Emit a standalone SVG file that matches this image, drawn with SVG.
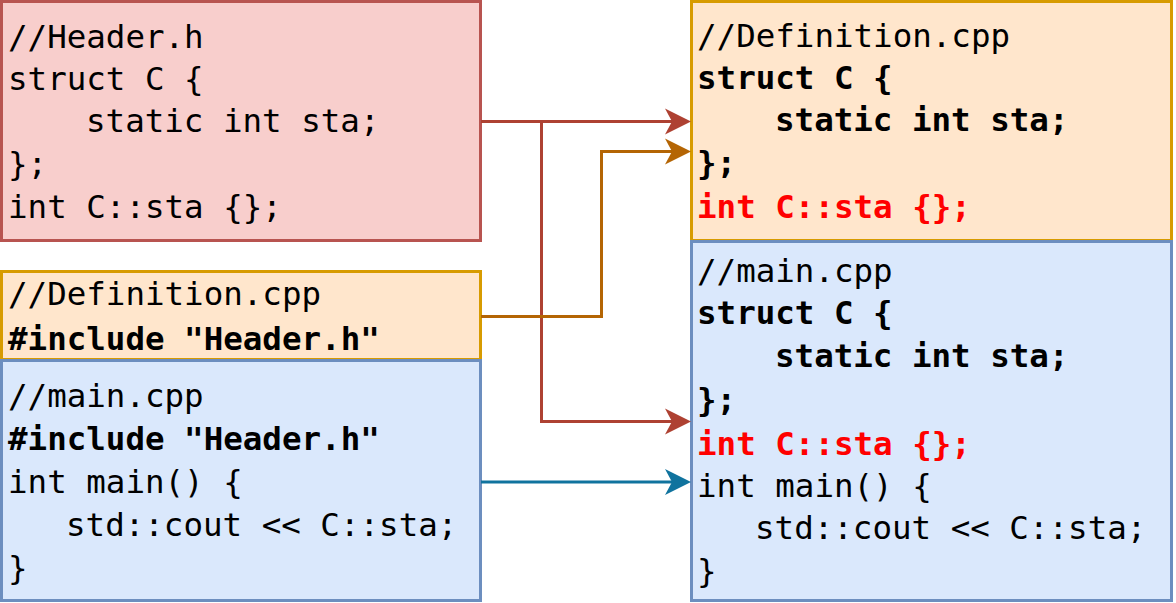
<svg xmlns="http://www.w3.org/2000/svg" width="1176" height="603" viewBox="0 0 1176 603">
<style>
.code{font-family:"DejaVu Sans Mono","Liberation Mono",monospace;font-size:32.5px;fill:#000}
.b{font-weight:bold}
.r{fill:#ff0000;font-weight:bold}
.red{fill:#f8cecc;stroke:#b85450;stroke-width:3}
.org{fill:#ffe6cc;stroke:#d79b00;stroke-width:3}
.blu{fill:#dae8fc;stroke:#6c8ebf;stroke-width:3}
.ln{fill:none;stroke-width:3}
</style>
<defs>
<marker id="aR" markerUnits="userSpaceOnUse" markerWidth="26" markerHeight="28" viewBox="0 0 26 28" refX="7" refY="14" orient="auto"><path d="M0,1 L26,14 L0,27 L7,14 Z" fill="#ae4132"/></marker>
<marker id="aO" markerUnits="userSpaceOnUse" markerWidth="26" markerHeight="28" viewBox="0 0 26 28" refX="7" refY="14" orient="auto"><path d="M0,1 L26,14 L0,27 L7,14 Z" fill="#b46504"/></marker>
<marker id="aB" markerUnits="userSpaceOnUse" markerWidth="26" markerHeight="28" viewBox="0 0 26 28" refX="7" refY="14" orient="auto"><path d="M0,1 L26,14 L0,27 L7,14 Z" fill="#10739e"/></marker>
</defs>
<rect width="1176" height="603" fill="#fff"/>
<g id="header">
<rect class="red" x="1.5" y="1.5" width="479" height="239"/>
<text class="code"><tspan x="8" y="48">//Header.h</tspan><tspan x="8" y="90">struct C {</tspan><tspan x="86" y="132">static int sta;</tspan><tspan x="8" y="175">};</tspan><tspan x="8" y="218">int C::sta {};</tspan></text>
</g>
<g id="definitionL">
<rect class="org" x="1.5" y="271.5" width="479" height="88"/>
<text class="code"><tspan x="8" y="305">//Definition.cpp</tspan><tspan class="b" x="8" y="350">#include "Header.h"</tspan></text>
</g>
<g id="mainL">
<rect class="blu" x="1.5" y="360.5" width="479" height="240"/>
<text class="code"><tspan x="8" y="407">//main.cpp</tspan><tspan class="b" x="8" y="450">#include "Header.h"</tspan><tspan x="8" y="493">int main() {</tspan><tspan x="66" y="536">std::cout &lt;&lt; C::sta;</tspan><tspan x="8" y="579">}</tspan></text>
</g>
<g id="definitionR">
<rect class="org" x="691.5" y="1.5" width="480" height="239"/>
<text class="code"><tspan x="697" y="47">//Definition.cpp</tspan><tspan class="b" x="697" y="89">struct C {</tspan><tspan class="b" x="775" y="131">static int sta;</tspan><tspan class="b" x="697" y="174">};</tspan><tspan class="r" x="697" y="218">int C::sta {};</tspan></text>
</g>
<g id="mainR">
<rect class="blu" x="691.5" y="241.5" width="480" height="359"/>
<text class="code"><tspan x="697" y="282">//main.cpp</tspan><tspan class="b" x="697" y="324">struct C {</tspan><tspan class="b" x="775" y="367">static int sta;</tspan><tspan class="b" x="697" y="411">};</tspan><tspan class="r" x="697" y="455">int C::sta {};</tspan><tspan x="697" y="497">int main() {</tspan><tspan x="755" y="539">std::cout &lt;&lt; C::sta;</tspan><tspan x="697" y="582">}</tspan></text>
</g>
<g id="connectors">
<path class="ln" stroke="#ae4132" d="M481,121.5 H672" marker-end="url(#aR)"/>
<path class="ln" stroke="#ae4132" d="M541.5,121.5 V421.5 H672" marker-end="url(#aR)"/>
<path class="ln" stroke="#b46504" d="M481,316.5 H601.5 V151.5 H672" marker-end="url(#aO)"/>
<path class="ln" stroke="#10739e" d="M481,482 H672" marker-end="url(#aB)"/>
</g>
</svg>
